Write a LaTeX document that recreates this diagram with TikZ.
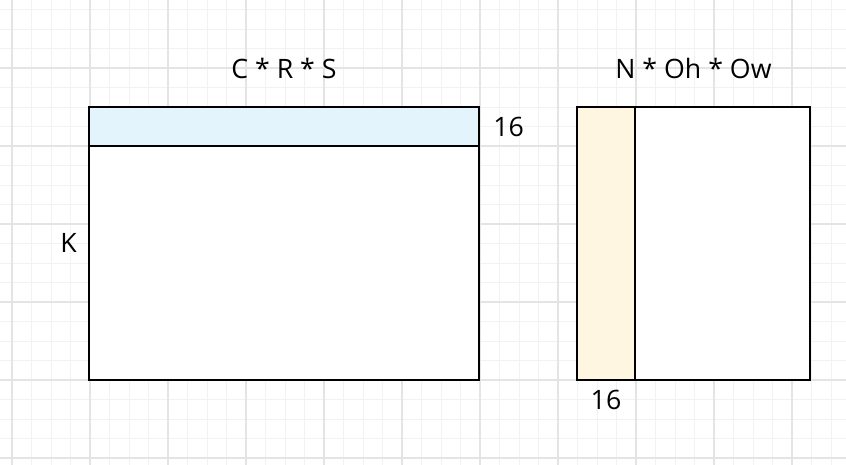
\documentclass[tikz,border=0pt]{standalone}
\usepackage{fontspec}
\setmainfont{Open Sans}
\usetikzlibrary{positioning}
\definecolor{bandblue}{HTML}{E3F4FD}
\definecolor{bandtan}{HTML}{FFF6E1}
\definecolor{minorgrid}{HTML}{F2F2F2}
\definecolor{majorgrid}{HTML}{E4E4E4}
\tikzset{
	every node/.style={align=center},
	%
	block/.style={draw, line width=1.2pt, inner sep=0pt, outer sep=0pt,
		anchor=north west},
	dim/.style={font=\fontsize{15.2}{18}\selectfont, inner sep=0pt},
	minor line/.style={minorgrid, line width=0.5pt},
	major line/.style={majorgrid, line width=0.6pt},
}

\begin{document}
\begin{tikzpicture}[x=0.02cm, y=-0.02cm]
	\useasboundingbox (0,0) rectangle (846,465);
	% background grid
	\foreach \x in {0,...,43}
		\draw [minor line] (12+19.5*\x,0) -- (12+19.5*\x,465);
	\foreach \y in {0,...,23}
		\draw [minor line] (0,9.5+19.5*\y) -- (846,9.5+19.5*\y);
	\foreach \x in {0,...,10}
		\draw [major line] (12+78*\x,0) -- (12+78*\x,465);
	\foreach \y in {0,...,5}
		\draw [major line] (0,68+78*\y) -- (846,68+78*\y);
	%
	\node (weights) [block, fill=white, minimum width=7.8cm,
		minimum height=5.46cm] at (89,107) {};
	\node (weights-row) [block, fill=bandblue, minimum width=7.8cm,
		minimum height=0.78cm] at (weights.north west) {};
	\node (inputs) [block, fill=white, minimum width=4.66cm,
		minimum height=5.46cm] at (577,107) {};
	\node (inputs-col) [block, fill=bandtan, minimum width=1.16cm,
		minimum height=5.46cm] at (inputs.north west) {};
	%
	\node (crs) [dim, above=0.56cm of weights] {C * R * S};
	\node (nohow) [dim, above=0.56cm of inputs] {N * Oh * Ow};
	\node (k) [dim, left=0.24cm of weights] {K};
	\node (row-size) [dim, right=0.28cm of weights-row] {16};
	\node (col-size) [dim, below=0.2cm of inputs-col] {16};
\end{tikzpicture}
\end{document}
